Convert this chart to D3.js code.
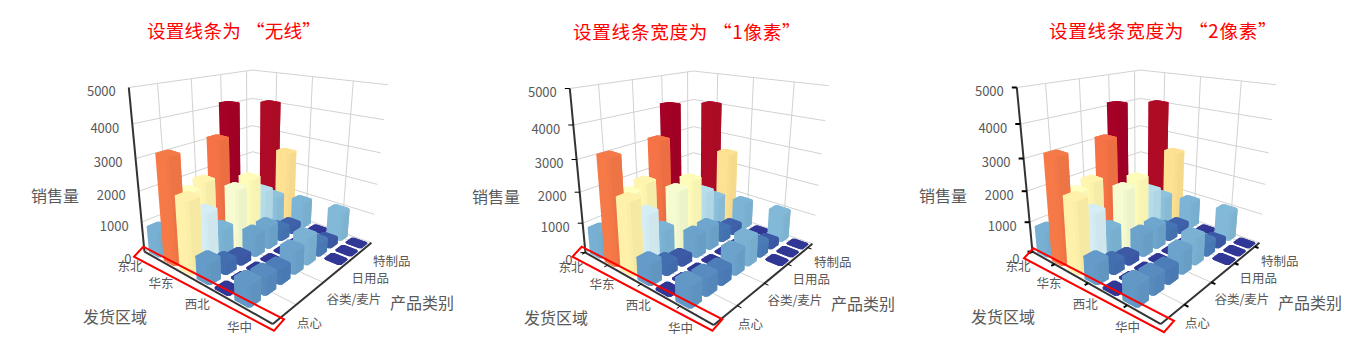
<!DOCTYPE html>
<html>
<head>
<meta charset="utf-8">
<script src="https://cdn.jsdelivr.net/npm/d3@7"></script>
<style>
body{margin:0;background:#fff}
text{font-family:"Noto Sans CJK SC","Noto Sans",sans-serif}
</style>
</head>
<body>
<div id="chart"></div>
<script>
// data (null = no bar in that cell)
const regions = ["东北", "华北", "华东", "华南", "西北", "西南", "华中"];
const categories = ["点心", "调味品", "谷类/麦片", "海鲜", "日用品", "肉/家禽", "特制品", "饮料"];
const salesTicks = [0, 1000, 2000, 3000, 4000, 5000];

const dongbei = [850, 300, 300, 200, 300, 4120, 300, 300];
const huabei  = [3300, 2050, 2200, 3350, 300, 300, 300, 4050];
const huadong = [2250, 1650, 900, 1950, 2100, 1500, 1100, 2480];
const huanan  = [670, 360, 230, 730, 750, 400, 280, 900];
const xibei   = [5, 5, 5, 5, 5, 5, 5, 5];
const xinan   = [650, 560, 460, 730, 880, 450, 220, 980];
const huazhong = [null, null, null, null, null, 5, 5, 5];
const salesRows = [dongbei, huabei, huadong, huanan, xibei, xinan, huazhong];

const titles = ["设置线条为“无线”", "设置线条宽度为“1像素”", "设置线条宽度为“2像素”"];

const panels = [
  {dx: 0, dy: 0, title: [147, 38], spacing: 0.2, tick: 0, rect: [0, 0]},
  {dx: 441, dy: 1, title: [573, 39], spacing: 0.7, tick: 1, rect: [-2.6, 0]},
  {dx: 888, dy: 0, title: [1049, 38], spacing: 0.7, tick: 2, rect: [2, 1.5]}
];

const width = 1349, height = 362;
const gridColor = "#d2d2d2", axisColor = "#333", textColor = "#595959";

// box corners on screen for the first panel: u, v, w -> x, y
const corners = [
  [0, 0, 0, 144, 251], [1, 0, 0, 274, 324], [1, 1, 0, 371, 243.5],
  [0, 0, 1, 128.3, 88.3], [1, 1, 1, 387.3, 84], [0, 1, 1, 253.3, 70]
];

// least squares for the perspective matrix
function fitCamera(pts){
  const A = [], b = [];
  pts.forEach(([u, v, w, x, y]) => {
    A.push([u, v, w, 1, 0, 0, 0, 0, -x*u, -x*v, -x*w]); b.push(x);
    A.push([0, 0, 0, 0, u, v, w, 1, -y*u, -y*v, -y*w]); b.push(y);
  });
  const n = 11;
  const M = d3.range(n).map(r => d3.range(n + 1).map(c =>
    c < n ? d3.sum(A, a => a[r]*a[c]) : d3.sum(A, (a, k) => a[r]*b[k])));
  for(let c = 0; c < n; c++){
    let p = c;
    for(let r = c; r < n; r++) if(Math.abs(M[r][c]) > Math.abs(M[p][c])) p = r;
    [M[c], M[p]] = [M[p], M[c]];
    for(let r = 0; r < n; r++) if(r != c){
      const f = M[r][c]/M[c][c];
      for(let k = c; k <= n; k++) M[r][k] -= f*M[c][k];
    }
  }
  return M.map((r, i) => r[n]/r[i]);
}
const cam = fitCamera(corners);
const project = (u, v, w) => {
  const d = cam[8]*u + cam[9]*v + cam[10]*w + 1;
  return [(cam[0]*u + cam[1]*v + cam[2]*w + cam[3])/d, (cam[4]*u + cam[5]*v + cam[6]*w + cam[7])/d];
};

const uScale = d3.scaleBand().domain(regions).range([0, 1]);
const vScale = d3.scaleBand().domain(categories).range([0, 1]);
const wScale = d3.scaleLinear().domain([0, 5000]).range([0, 1]);
const color = d3.scaleLinear()
  .domain([0, 400, 800, 1450, 1700, 2050, 2500, 2850, 3400, 3800, 4120])
  .range(["#313695", "#4575b4", "#74add1", "#abd9e9", "#e0f3f8", "#ffffbf", "#fee090", "#fdae61", "#f46d43", "#d73027", "#a50026"])
  .clamp(true);

const uCenter = i => uScale(regions[i]) + uScale.bandwidth()/2;
const vCenter = j => vScale(categories[j]) + vScale.bandwidth()/2;

const svg = d3.select("#chart").append("svg").attr("width", width).attr("height", height);
const poly = pts => pts.map(p => p.join(",")).join(" ");

panels.forEach((panel, k) => drawPanel(panel, titles[k]));

function drawPanel(panel, title){
  // the opening quote sits at the right of a full-width cell
  const head = svg.append("text").attr("x", panel.title[0]).attr("y", panel.title[1])
    .attr("fill", "#f00").attr("font-size", 18.6).attr("letter-spacing", panel.spacing);
  const parts = title.split("“");
  head.append("tspan").text(parts[0]);
  head.append("tspan").attr("dx", 5).text("“" + parts[1]);

  const g = svg.append("g").attr("transform", `translate(${panel.dx},${panel.dy})`);
  const line = (a, b, col, sw) => g.append("line")
    .attr("x1", a[0]).attr("y1", a[1]).attr("x2", b[0]).attr("y2", b[1])
    .attr("stroke", col).attr("stroke-width", sw);

  const uTicks = [1, 3, 5].map(uCenter), vTicks = [1, 3, 5, 7].map(vCenter);

  // walls and floor
  salesTicks.slice(1).forEach(s => {
    const w = wScale(s);
    line(project(0, 0, w), project(0, 1, w), gridColor, 1);
    line(project(0, 1, w), project(1, 1, w), gridColor, 1);
  });
  vTicks.forEach(v => {
    line(project(0, v, 0), project(0, v, 1), gridColor, 1);
    line(project(0, v, 0), project(1, v, 0), gridColor, 1);
  });
  uTicks.forEach(u => {
    line(project(u, 1, 0), project(u, 1, 1), gridColor, 1);
    line(project(u, 0, 0), project(u, 1, 0), gridColor, 1);
  });
  line(project(0, 1, 0), project(1, 1, 0), gridColor, 1);
  line(project(0, 0, 0), project(0, 1, 0), gridColor, 1);

  // bars, back to front
  const bw = 0.8, cut = 0.1;
  const du = uScale.bandwidth()/2, dv = vScale.bandwidth()/2;
  regions.forEach((region, i) => {
    d3.range(categories.length - 1, -1, -1).forEach(j => {
      const val = salesRows[i][j];
      if(val === null) return;
      const cu = uCenter(i), cv = vCenter(j), hu = du*bw, hv = dv*bw;
      const cu2 = 2*du*cut, cv2 = 2*dv*cut;
      // chamfered footprint, starting from the v-min side going round
      const foot = [
        [cu - hu + cu2, cv - hv], [cu + hu - cu2, cv - hv], [cu + hu, cv - hv + cv2], [cu + hu, cv + hv - cv2],
        [cu + hu - cu2, cv + hv], [cu - hu + cu2, cv + hv], [cu - hu, cv + hv - cv2], [cu - hu, cv - hv + cv2]
      ];
      const w = wScale(val), c = d3.color(color(val));
      const low = foot.map(p => project(p[0], p[1], 0)), high = foot.map(p => project(p[0], p[1], w));
      const bar = g.append("g");
      bar.append("polygon").attr("points", poly(d3.polygonHull(low.concat(high)))).attr("fill", c.formatHex());
      bar.append("polygon").attr("points", poly([high[1], high[2], low[2], low[1]])).attr("fill", c.darker(0.04).formatHex());
      bar.append("polygon").attr("points", poly([high[2], high[3], low[3], low[2]])).attr("fill", c.darker(0.1).formatHex());
      bar.append("polygon").attr("points", poly(high)).attr("fill", c.formatHex());
    });
  });

  // axes
  const axisW = 2;
  line(project(0, 0, 0), project(0, 0, 1), axisColor, axisW);
  line(project(0, 0, 0), project(1, 0, 0), axisColor, axisW);
  line(project(1, 0, 0), project(1, 1, 0), axisColor, axisW);

  if(panel.tick){
    salesTicks.forEach(s => {
      const p = project(0, 0, wScale(s));
      line([p[0] - 5, p[1]], [p[0], p[1]], "#000", panel.tick);
    });
    [0].concat(uTicks).forEach(u => line(project(u, -0.025, 0), project(u, 0, 0), "#000", panel.tick));
    vTicks.forEach(v => line(project(1, v, 0), project(1.025, v, 0), "#000", panel.tick));
  }

  // tick labels
  salesTicks.forEach(s => {
    const p = project(0, 0, wScale(s));
    g.append("text").attr("x", p[0] - 13).attr("y", p[1] + (s ? 8.5 : 12))
      .attr("text-anchor", "end").attr("font-size", 13).attr("fill", textColor).text(s);
  });
  regions.forEach((r, i) => {
    if(i % 2) return;
    const p = project(uCenter(i), 0, 0);
    g.append("text").attr("x", p[0] - 21.7).attr("y", p[1] + 15)
      .attr("text-anchor", "middle").attr("font-size", 12.5).attr("fill", textColor).text(r);
  });
  categories.forEach((t, j) => {
    if(j % 2) return;
    const p = project(1, vCenter(j), 0);
    g.append("text").attr("x", p[0] + 16).attr("y", p[1] + 11)
      .attr("font-size", 12.5).attr("fill", textColor).text(t);
  });

  // axis titles
  const axisTitle = (x, y, s) => g.append("text").attr("x", x).attr("y", y)
    .attr("font-size", 16).attr("fill", textColor).text(s);
  axisTitle(31, 202, "销售量");
  axisTitle(83, 323, "发货区域");
  axisTitle(390, 309, "产品类别");

  // red highlight around the region axis
  const r = [[143.3, 246.7], [134, 256.7], [274, 330.7], [284, 319.3]];
  g.append("polygon").attr("transform", `translate(${panel.rect[0]},${panel.rect[1] - panel.dy})`)
    .attr("points", poly(r)).attr("fill", "none").attr("stroke", "#f00").attr("stroke-width", 2);
}
</script>
</body>
</html>
